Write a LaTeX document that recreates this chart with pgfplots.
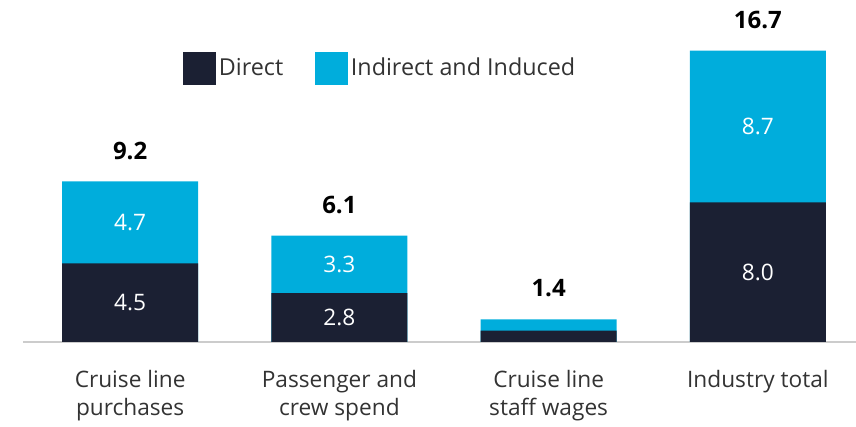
\documentclass[border=0pt]{standalone}
\usepackage{pgfplots}
\pgfplotsset{compat=1.18}
\usepackage{fontspec}
\setmainfont{Open Sans}
\definecolor{dk}{HTML}{1B2033}
\definecolor{cy}{HTML}{00ADDC}
\definecolor{tx}{HTML}{333333}
\begin{document}
\begin{tikzpicture}
\begin{axis}[
  scale only axis,
  width=624.75pt, height=256.5pt,
  xmin=-0.512, xmax=3.469,
  ymin=0, ymax=19.6,
  axis x line*=bottom,
  axis y line=none,
  x axis line style={-, draw=black!20, line width=1.5pt},
  xtick={0,1,2,3},
  xticklabels={Cruise line\\purchases, Passenger and\\crew spend, Cruise line\\staff wages, Industry total},
  xticklabel style={align=center, font=\fontsize{17}{21}\selectfont, text=tx, yshift=-18pt},
  major tick length=0pt,
  ytick=\empty,
  clip=false,
  legend columns=2,
  legend style={draw=none, fill=none, at={(0.192,0.801)}, anchor=west, inner sep=0pt,
    font=\fontsize{17.5}{20}\selectfont, text=tx,
    /tikz/every even column/.append style={column sep=22pt}},
  legend image code/.code={\fill (0pt,-12.4pt) rectangle (24.75pt,12.4pt);},
]
\addlegendimage{fill=dk, draw=none}
\addlegendentry{Direct}
\addlegendimage{fill=cy, draw=none}
\addlegendentry{Indirect and Induced}
% Indirect and induced drawn as total height
\addplot[forget plot, ybar, bar width=102pt, bar shift=0pt, fill=cy, draw=none,
  nodes near coords, point meta=explicit symbolic,
  every node near coord/.append style={font=\bfseries\fontsize{18}{20}\selectfont, text=black, anchor=south, yshift=13pt}]
  coordinates {(0,9.2)[9.2] (1,6.1)[6.1] (2,1.3)[1.4] (3,16.7)[16.7]};
% Direct
\addplot[forget plot, ybar, bar width=102pt, bar shift=0pt, fill=dk, draw=none]
  coordinates {(0,4.5) (1,2.8) (2,0.65) (3,8.0)};
% labels
\addplot[draw=none, mark=none, forget plot, nodes near coords, point meta=explicit symbolic,
  every node near coord/.append style={anchor=center, text=white, font=\fontsize{17}{20}\selectfont}]
  coordinates {(0,2.25)[4.5] (1,1.4)[2.8] (3,4.0)[8.0] (0,6.85)[4.7] (1,4.45)[3.3] (3,12.35)[8.7]};
\end{axis}
\pgfresetboundingbox
\path (-17.25pt,-63.75pt) rectangle (624.75pt,256.5pt);
\end{tikzpicture}
\end{document}
